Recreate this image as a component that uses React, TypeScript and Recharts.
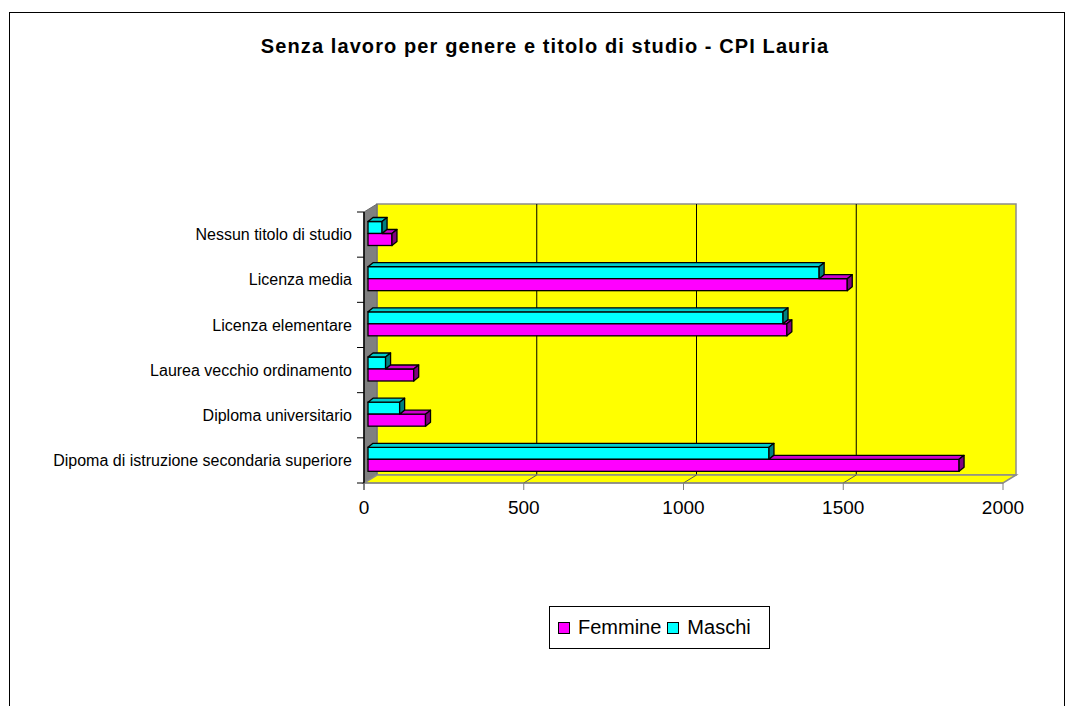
import React from "react";
import { BarChart, Bar, XAxis, YAxis, ReferenceArea, Legend } from "recharts";

// Categories listed top to bottom as they appear in the chart
const categories = [
  "Nessun titolo di studio",
  "Licenza media",
  "Licenza elementare",
  "Laurea vecchio ordinamento",
  "Diploma universitario",
  "Dipoma di istruzione secondaria superiore",
];
const femmine = [75, 1500, 1311, 143, 180, 1850];
const maschi = [44, 1412, 1299, 55, 99, 1255];
const xTicks = [0, 500, 1000, 1500, 2000];
const seriesOrder = ["Femmine", "Maschi"];
const seriesColors: Record<string, string> = { Femmine: "#FF00FF", Maschi: "#00FFFF" };
const title = "Senza lavoro per genere e titolo di studio - CPI Lauria";

const data = categories.map((c, i) => ({ categoria: c, femmine: femmine[i], maschi: maschi[i] }));

const FONT = '"Liberation Sans", Arial, sans-serif';
const WALL_DX = 13;
const WALL_DY = 8;
const BAR_DX = 4;
const BAR_DY = -1.5;
const DEPTH_X = 5;
const DEPTH_Y = 4;
const X_MAX = xTicks[xTicks.length - 1];

function Walls(props: any) {
  const { x, y, width, height } = props;
  if (x == null || y == null) return null;
  const bx = x + WALL_DX;
  const by = y - WALL_DY;
  const nCat = categories.length;
  return (
    <g>
      {/* back wall */}
      <rect x={bx} y={by} width={width} height={height} fill="#FFFF00" stroke="#8c8c8c" strokeWidth={1.5} />
      {xTicks.slice(1, -1).map((t) => {
        const gx = bx + (width * t) / X_MAX;
        return <line key={"g" + t} x1={gx} y1={by} x2={gx} y2={by + height} stroke="#000" strokeWidth={1} />;
      })}
      {/* left side wall */}
      <polygon
        points={`${x},${y} ${bx},${by} ${bx},${by + height} ${x},${y + height}`}
        fill="#808080"
        stroke="#6a6a6a"
        strokeWidth={1}
      />
      {/* floor */}
      <polygon
        points={`${x},${y + height} ${bx},${by + height} ${bx + width},${by + height} ${x + width},${y + height}`}
        fill="#FFFF00"
        stroke="#8c8c8c"
        strokeWidth={1.5}
      />
      {xTicks.slice(1, -1).map((t) => {
        const fx = x + (width * t) / X_MAX;
        return (
          <line key={"f" + t} x1={fx} y1={y + height} x2={fx + WALL_DX} y2={by + height} stroke="#555" strokeWidth={1} />
        );
      })}
      {/* category boundary ticks */}
      {Array.from({ length: nCat + 1 }).map((_, i) => {
        const ty = y + (height * i) / nCat;
        return <line key={"t" + i} x1={x - 7} y1={ty} x2={x} y2={ty} stroke="#000" strokeWidth={1} />;
      })}
      <line x1={x} y1={y} x2={x} y2={y + height + 7} stroke="#000" strokeWidth={1} />
    </g>
  );
}

function makeBarShape(front: string, top: string, side: string, occlude: boolean) {
  return (props: any) => {
    const { x, y, width, height, payload } = props;
    if (x == null || y == null || !(width > 0)) return <g />;
    const X = x + BAR_DX;
    const Y = y + BAR_DY;
    const w = width;
    const h = height;
    let ts = X;
    if (occlude && payload && payload.femmine > 0) {
      ts = X + w * Math.min(1, payload.maschi / payload.femmine);
    }
    const sw = 1.3;
    return (
      <g>
        <rect x={X} y={Y} width={w} height={h} fill={front} stroke="#000" strokeWidth={sw} />
        {ts < X + w && (
          <polygon
            points={`${ts},${Y} ${ts + DEPTH_X},${Y - DEPTH_Y} ${X + w + DEPTH_X},${Y - DEPTH_Y} ${X + w},${Y}`}
            fill={top}
            stroke="#000"
            strokeWidth={sw}
            strokeLinejoin="round"
          />
        )}
        <polygon
          points={`${X + w},${Y} ${X + w + DEPTH_X},${Y - DEPTH_Y} ${X + w + DEPTH_X},${Y + h - DEPTH_Y} ${X + w},${Y + h}`}
          fill={side}
          stroke="#000"
          strokeWidth={sw}
          strokeLinejoin="round"
        />
      </g>
    );
  };
}

const maschiShape = makeBarShape("#00FFFF", "#00CCCC", "#008080", false);
const femmineShape = makeBarShape("#FF00FF", "#CC00CC", "#800080", true);

function renderLegend(props: any) {
  const payload: any[] = props.payload || [];
  const items = seriesOrder.map((name) => {
    const p = payload.find((e: any) => e.value === name);
    return { name, color: seriesColors[name] || (p && p.color) };
  });
  return (
    <div
      style={{
        boxSizing: "border-box",
        width: 221,
        height: 43,
        border: "1px solid #000",
        background: "#fff",
        display: "flex",
        alignItems: "center",
        paddingLeft: 8,
        fontFamily: FONT,
        fontSize: 20,
        color: "#000",
      }}
    >
      {items.map((it) => (
        <span key={it.name} style={{ display: "inline-flex", alignItems: "center", marginRight: 6 }}>
          <span
            style={{
              display: "inline-block",
              width: 10,
              height: 10,
              background: it.color,
              border: "1px solid #000",
              marginRight: 8,
            }}
          />
          <span>{it.name}</span>
        </span>
      ))}
    </div>
  );
}

export default function App() {
  return (
    <div style={{ position: "absolute", left: 0, top: 0, width: 1067, height: 706, overflow: "hidden", background: "#fff" }}>
      <div
        style={{
          position: "absolute",
          left: 9,
          top: 12,
          width: 1056,
          height: 720,
          border: "1px solid #000",
          boxSizing: "border-box",
        }}
      />
      <div
        style={{
          position: "absolute",
          left: 195,
          top: 34,
          width: 700,
          textAlign: "center",
          fontFamily: FONT,
          fontWeight: "bold",
          fontSize: 20,
          letterSpacing: 1.1,
          lineHeight: "24px",
          color: "#000",
        }}
      >
        {title}
      </div>
      <div style={{ position: "absolute", left: 0, top: 0 }}>
        <BarChart
          width={1067}
          height={706}
          data={data}
          layout="vertical"
          margin={{ top: 212, right: 64, bottom: 183, left: 0 }}
          barGap={0}
          barSize={12}
        >
          <ReferenceArea x1={0} x2={X_MAX} shape={Walls} ifOverflow="visible" />
          <XAxis
            type="number"
            domain={[0, X_MAX]}
            ticks={xTicks}
            interval={0}
            height={40}
            tickSize={7}
            tickMargin={11}
            axisLine={{ stroke: "#808080" }}
            tickLine={{ stroke: "#808080" }}
            tick={{ fill: "#000", fontSize: 19, fontFamily: FONT }}
          />
          <YAxis
            type="category"
            dataKey="categoria"
            width={364}
            tickLine={false}
            axisLine={{ stroke: "#000" }}
            tickSize={6}
            tickMargin={6}
            interval={0}
            tick={{ fill: "#000", fontSize: 16, fontFamily: FONT }}
          />
          <Bar dataKey="maschi" name="Maschi" fill="#00FFFF" shape={maschiShape} isAnimationActive={false} />
          <Bar dataKey="femmine" name="Femmine" fill="#FF00FF" shape={femmineShape} isAnimationActive={false} />
          <Legend
            layout="horizontal"
            verticalAlign="middle"
            align="center"
            wrapperStyle={{ position: "absolute", left: 549, top: 606, width: 221, height: 43 }}
            content={renderLegend}
          />
        </BarChart>
      </div>
    </div>
  );
}
